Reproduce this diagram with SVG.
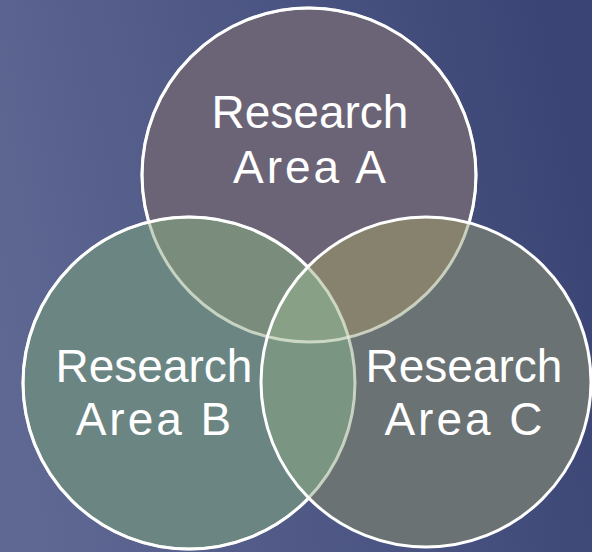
<svg xmlns="http://www.w3.org/2000/svg" width="592" height="552" viewBox="0 0 592 552">
<style>
.lbl{font-family:"Liberation Sans",Arial,sans-serif;font-size:46px;fill:#ffffff;text-anchor:middle}
.wide{letter-spacing:3px}
.edge{fill:none;stroke-width:3}
</style>
<defs>
<linearGradient id="bg" x1="0" y1="0.6" x2="1" y2="0.4">
<stop offset="0" stop-color="#5f6893"/>
<stop offset="1" stop-color="#3b4575"/>
</linearGradient>
<circle id="cA" cx="309" cy="175" r="167"/>
<circle id="cB" cx="189" cy="383" r="166"/>
<circle id="cC" cx="426" cy="382" r="165"/>
<clipPath id="clipA"><use href="#cA"/></clipPath>
<clipPath id="clipB"><use href="#cB"/></clipPath>
<clipPath id="clipAB"><circle cx="309" cy="175" r="167" clip-path="url(#clipB)"/></clipPath>
<mask id="notBC"><rect width="592" height="552" fill="#fff"/><use href="#cB" fill="#000"/><use href="#cC" fill="#000"/></mask>
<mask id="notC"><rect width="592" height="552" fill="#fff"/><use href="#cC" fill="#000"/></mask>
</defs>
<rect width="592" height="552" fill="url(#bg)"/>
<g id="nodeA">
<use href="#cA" fill="#6b6477"/>
</g>
<g id="nodeB">
<use href="#cB" fill="#6a8582"/>
</g>
<g id="nodeC">
<use href="#cC" fill="#6b7274"/>
</g>
<g id="overlaps">
<use href="#cB" fill="#7a8c7c" clip-path="url(#clipA)"/>
<use href="#cC" fill="#86826e" clip-path="url(#clipA)"/>
<use href="#cC" fill="#7a9682" clip-path="url(#clipB)"/>
<use href="#cC" fill="#87a086" clip-path="url(#clipAB)"/>
</g>
<g id="outlines">
<use href="#cA" class="edge" stroke="#e4ecd8" stroke-opacity="0.75"/>
<use href="#cA" class="edge" stroke="#ffffff" mask="url(#notBC)"/>
<use href="#cB" class="edge" stroke="#e4ecd8" stroke-opacity="0.75"/>
<use href="#cB" class="edge" stroke="#ffffff" mask="url(#notC)"/>
<use href="#cC" class="edge" stroke="#ffffff"/>
</g>
<g id="labels">
<text class="lbl" x="310" y="128">Research</text>
<text class="lbl wide" x="311" y="183">Area A</text>
<text class="lbl" x="154" y="382">Research</text>
<text class="lbl wide" x="155" y="435">Area B</text>
<text class="lbl" x="464" y="382">Research</text>
<text class="lbl wide" x="465" y="435">Area C</text>
</g>
</svg>
